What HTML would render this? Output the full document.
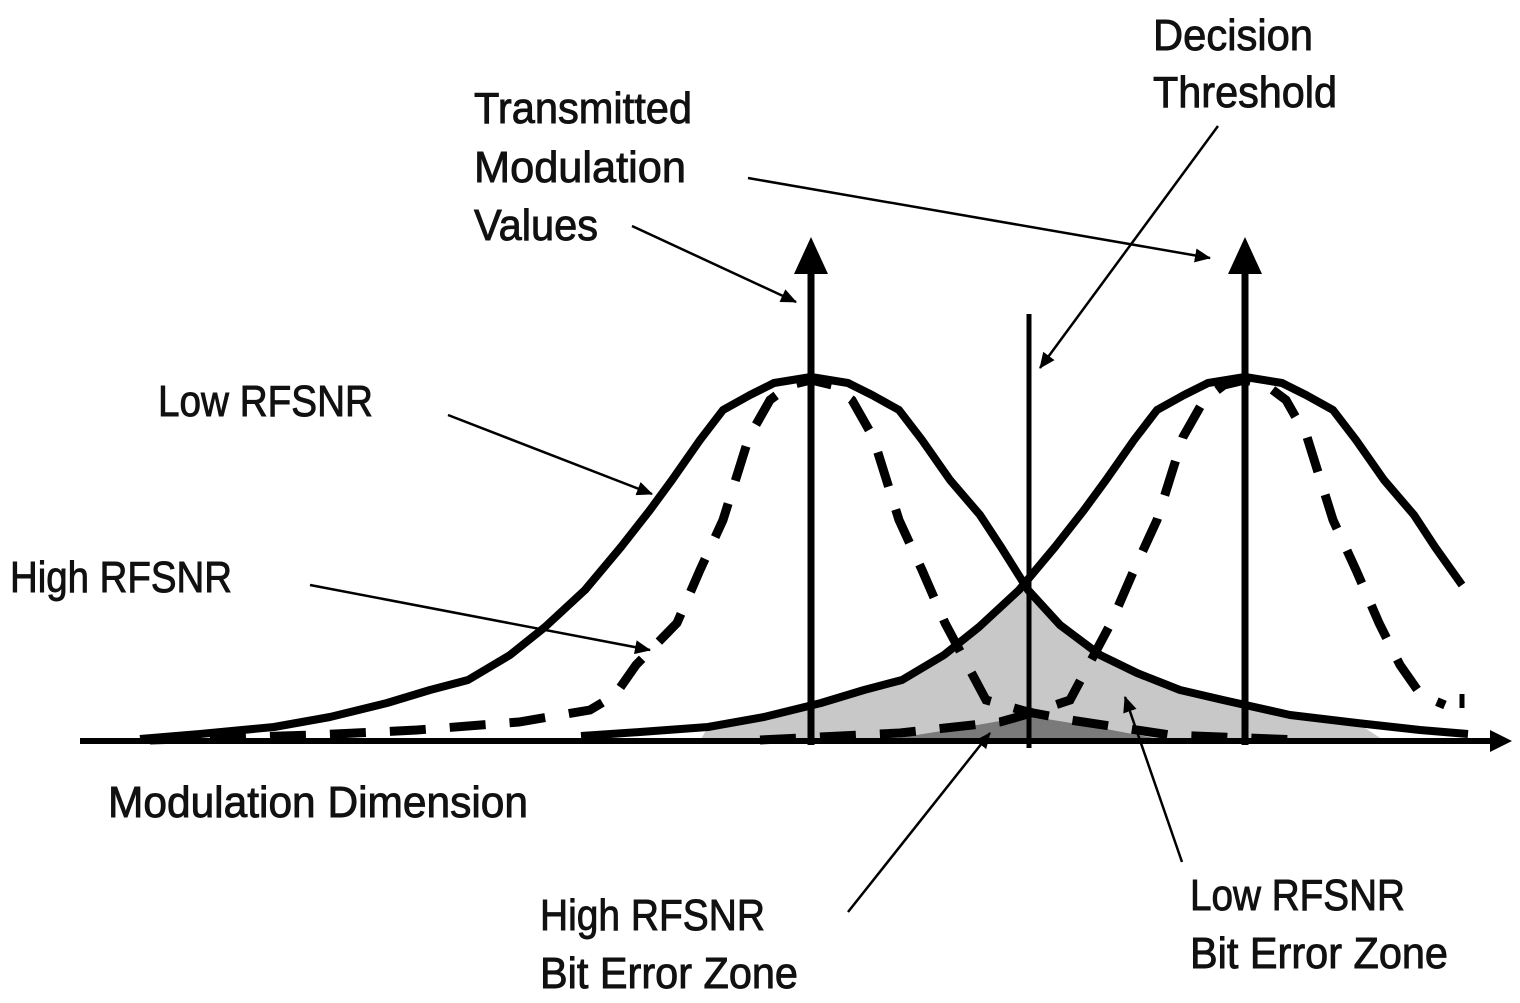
<!DOCTYPE html>
<html><head><meta charset="utf-8"><style>
html,body{margin:0;padding:0;background:#fff}
svg{display:block}
text{font-family:"Liberation Sans Narrow","Liberation Sans",sans-serif;font-size:44px;fill:#111;stroke:#111;stroke-width:0.9px}
</style></head><body>
<svg width="1520" height="1003" viewBox="0 0 1520 1003" xmlns="http://www.w3.org/2000/svg">
<defs>
<marker id="ah" markerWidth="16" markerHeight="14" refX="15" refY="7" orient="auto" markerUnits="userSpaceOnUse" viewBox="0 0 16 14">
<path d="M0,0 L16,7 L0,14 z" fill="#000"/>
</marker>
</defs>
<rect width="1520" height="1003" fill="#fff"/>
<!-- shaded -->
<polygon fill="#c8c8c8" points="700,741 708,727 764,717 821,703 864,690 902,680 944,655 979,627 1019,590 1028,590 1060,625 1100,655 1137,673 1180,690 1223,700 1290,715 1357,723 1385,741"/>
<polygon fill="#7a7a7a" points="880,741 960,728 1028,716 1090,726 1170,741"/>
<!-- axis -->
<line x1="80" y1="741" x2="1495" y2="741" stroke="#000" stroke-width="6"/>
<path d="M1490,730 L1512,741 L1490,752 z" fill="#000"/>
<!-- solid curves -->
<polyline fill="none" stroke="#000" stroke-width="8" stroke-linejoin="round" points="140,739 200,734 274,727 330,717 387,703 430,690 468,680 510,655 545,627 585,590 621,547 650,510 672,480 700,440 723,410 750,395 774,383 811,377 848,383 872,395 899,410 922,440 950,480 980,515 1001,547 1028,590 1060,625 1100,655 1137,673 1180,690 1223,700 1290,715 1357,723 1420,730 1468,734"/>
<polyline fill="none" stroke="#000" stroke-width="8" stroke-linejoin="round" points="581,736 640,732 708,727 764,717 821,703 864,690 902,680 944,655 979,627 1019,590 1055,547 1084,510 1106,480 1134,440 1157,410 1184,395 1208,383 1245,377 1282,383 1306,395 1333,410 1356,440 1384,480 1414,515 1435,547 1462,585"/>
<!-- dashed curves -->
<polyline fill="none" stroke="#000" stroke-width="9" stroke-dasharray="36,24" points="150,740 315,735 417,730 519,722 590,710 615,695 636,665 677,623 700,570 723,520 749,437 770,400 790,385 811,380 832,385 852,400 873,437 899,520 922,570 945,623 986,700 1028,712 1070,720 1170,735 1300,740"/>
<polyline fill="none" stroke="#000" stroke-width="9" stroke-dasharray="36,24" points="760,740 900,733 1000,722 1028,714 1070,700 1111,623 1134,570 1157,520 1183,437 1204,400 1224,385 1245,380 1266,385 1286,400 1307,437 1333,520 1356,570 1379,623 1400,665 1421,695 1445,705"/>
<line x1="1462" y1="694" x2="1462" y2="708" stroke="#000" stroke-width="5"/>
<!-- vertical arrows -->
<line x1="811" y1="745" x2="811" y2="268" stroke="#000" stroke-width="7"/>
<path d="M794,274 L811,237 L828,274 z" fill="#000"/>
<line x1="1245" y1="745" x2="1245" y2="268" stroke="#000" stroke-width="7"/>
<path d="M1228,274 L1245,237 L1262,274 z" fill="#000"/>
<line x1="1029" y1="314" x2="1029" y2="748" stroke="#000" stroke-width="5"/>
<!-- annotation arrows -->
<g stroke="#000" stroke-width="2.5" fill="none" marker-end="url(#ah)">
<line x1="632" y1="226" x2="796" y2="302"/>
<line x1="748" y1="178" x2="1210" y2="258"/>
<line x1="1218" y1="126" x2="1040" y2="368"/>
<line x1="448" y1="415" x2="652" y2="494"/>
<line x1="310" y1="585" x2="650" y2="650"/>
<line x1="848" y1="912" x2="990" y2="733"/>
<line x1="1182" y1="862" x2="1125" y2="697"/>
</g>
<!-- labels -->
<text x="1153" y="50" textLength="160" lengthAdjust="spacingAndGlyphs">Decision</text>
<text x="1153" y="107" textLength="184" lengthAdjust="spacingAndGlyphs">Threshold</text>
<text x="474" y="123" textLength="218" lengthAdjust="spacingAndGlyphs">Transmitted</text>
<text x="474" y="182" textLength="212" lengthAdjust="spacingAndGlyphs">Modulation</text>
<text x="474" y="240" textLength="124" lengthAdjust="spacingAndGlyphs">Values</text>
<text x="158" y="416" textLength="215" lengthAdjust="spacingAndGlyphs">Low RFSNR</text>
<text x="10" y="592" textLength="222" lengthAdjust="spacingAndGlyphs">High RFSNR</text>
<text x="108" y="817" textLength="420" lengthAdjust="spacingAndGlyphs">Modulation Dimension</text>
<text x="540" y="930" textLength="225" lengthAdjust="spacingAndGlyphs">High RFSNR</text>
<text x="540" y="988" textLength="258" lengthAdjust="spacingAndGlyphs">Bit Error Zone</text>
<text x="1190" y="910" textLength="215" lengthAdjust="spacingAndGlyphs">Low RFSNR</text>
<text x="1190" y="968" textLength="258" lengthAdjust="spacingAndGlyphs">Bit Error Zone</text>
</svg>
</body></html>
